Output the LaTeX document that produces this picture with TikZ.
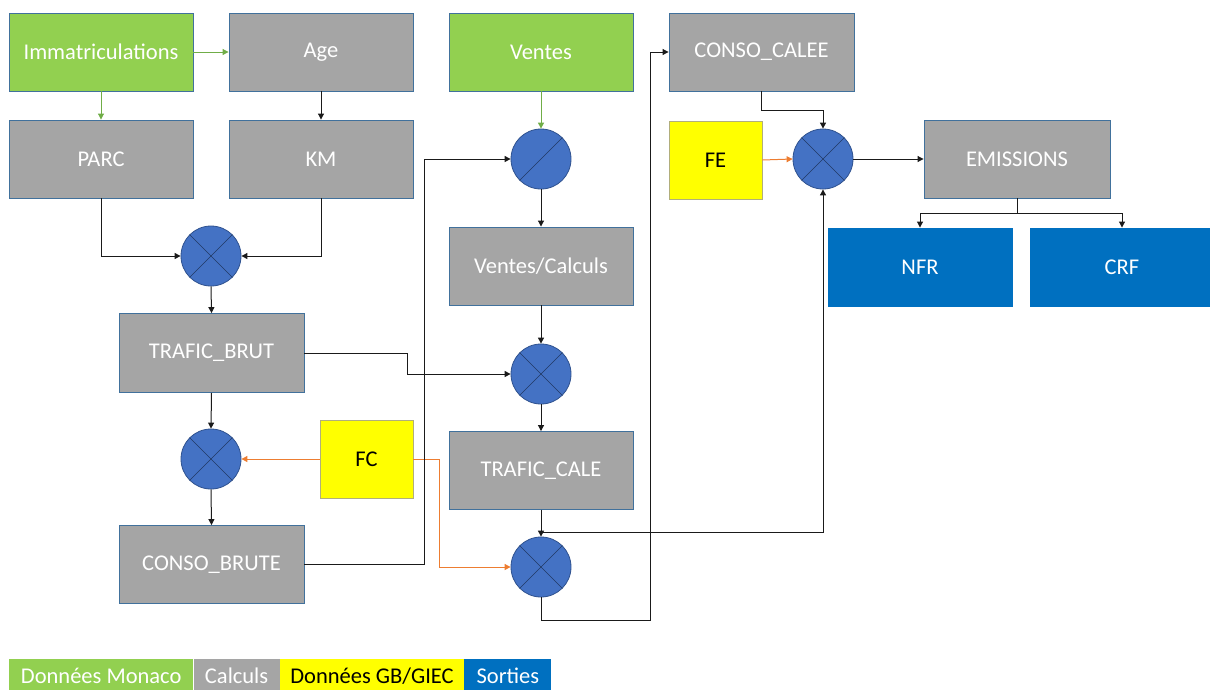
\documentclass[tikz,border=0pt]{standalone}
\usepackage{fontspec}
\setmainfont{Carlito}
\usetikzlibrary{arrows.meta,positioning}
\definecolor{cgreen}{HTML}{92D050}
\definecolor{cgray}{HTML}{A5A5A5}
\definecolor{cyellow}{HTML}{FFFF00}
\definecolor{cblue}{HTML}{0070C0}
\definecolor{cop}{HTML}{4472C4}
\definecolor{copdraw}{HTML}{2F528F}
\definecolor{cborder}{HTML}{41719C}
\definecolor{lgreen}{HTML}{70AD47}
\definecolor{lorange}{HTML}{ED7D31}
\definecolor{lgrey}{HTML}{1A1A1A}
\begin{document}
\begin{tikzpicture}[x=1pt,y=-1pt,
  font=\fontsize{22.5}{27}\selectfont,
  box/.style={rectangle,draw=cborder,line width=0.9pt,inner sep=0pt,
              minimum width=184pt,minimum height=78pt,text=white},
  databox/.style={box,fill=cgreen},
  calcbox/.style={box,fill=cgray},
  factbox/.style={box,fill=cyellow,draw=gray!70!yellow,text=black,minimum width=93pt},
  outbox/.style={box,fill=cblue,draw=cblue},
  op/.style={circle,fill=cop,draw=copdraw,line width=0.8pt,minimum size=60pt,inner sep=0pt},
  opline/.style={draw=copdraw!70!black,line width=0.6pt},
  link/.style={draw=lgrey,line width=1pt,-{Triangle[length=6pt,width=6pt]}},
  glink/.style={link,draw=lgreen,-{Triangle[length=6pt,width=6pt,fill=lgreen]}},
  olink/.style={link,draw=lorange,-{Triangle[length=6pt,width=6pt,fill=lorange]}},
  legcell/.style={rectangle,inner sep=0pt,minimum height=34pt,anchor=north west,text=white}
]
\useasboundingbox (0,0) rectangle (1210,689);

% data, calculation and output boxes
\node[databox] (imm) at (101,52) {Immatriculations};
\node[calcbox] (age) at (321,52) {Age};
\node[calcbox] (parc) at (101,159) {PARC};
\node[calcbox] (km) at (321,159) {KM};
\node[calcbox,minimum width=185pt,minimum height=79pt] (tb) at (211.5,353) {TRAFIC\_BRUT};
\node[factbox] (fc) at (366.5,459) {FC};
\node[calcbox,minimum width=185pt] (cb) at (211.5,564.5) {CONSO\_BRUTE};
\node[databox] (ventes) at (541,52) {Ventes};
\node[calcbox] (vc) at (541,266) {Ventes/Calculs};
\node[calcbox] (tc) at (541,470.5) {TRAFIC\_CALE};
\node[calcbox,minimum width=185pt] (cc) at (761.5,52) {CONSO\_CALEE};
\node[factbox] (fe) at (715.5,160) {FE};
\node[calcbox,minimum width=186pt] (em) at (1017,159) {EMISSIONS};
\node[outbox] (nfr) at (920,267) {NFR};
\node[outbox] (crf) at (1122,267) {CRF};

% operators: products and a quotient
\foreach \n/\p in {m1/{(211,256)},m2/{(211,459)},m3/{(541,374)},m4/{(541,567)},m5/{(823,159)}}{
  \node[op] (\n) at \p {};
  \draw[opline] (\n.north west) -- (\n.south east);
  \draw[opline] (\n.north east) -- (\n.south west);
}
\node[op] (d1) at (541,159) {};
\draw[opline] (d1.south west) -- (d1.north east);

% connectors
\draw[glink] (imm.east) -- (age.west);
\draw[glink] (imm.south) -- (parc.north);
\draw[link] (age.south) -- (km.north);
\draw[link] (parc.south) |- (m1.west);
\draw[link] (km.south) |- (m1.east);
\draw[link] (m1.south) -- (tb.north);
\draw[link] (tb.east) -- ++(103,0) |- (m3.west);
\draw[link] (tb.south) -- (m2.north);
\draw[olink] (fc.west) -- (m2.east);
\draw[olink] (fc.east) -- ++(26,0) |- (m4.west);
\draw[link] (m2.south) -- (cb.north);
\draw[link] (cb.east) -- ++(120,0) |- (d1.west);
\draw[glink] (ventes.south) -- (d1.north);
\draw[link] (d1.south) -- (vc.north);
\draw[link] (vc.south) -- (m3.north);
\draw[link] (m3.south) -- (tc.north);
\draw[link] (tc.south) -- (m4.north);
\draw[link] (tc.south) -- ++(0,23) -| (m5.south);
\draw[link] (m4.south) -- ++(0,23) -- ++(109,0) |- (cc.west);
\draw[link] (cc.south) -- ++(0,19) -| (m5.north);
\draw[olink] (fe.east) -- (m5.west);
\draw[link] (m5.east) -- (em.west);
\draw[link] (em.south) -- ++(0,15) -| (nfr.north);
\draw[link] (em.south) -- ++(0,15) -| (crf.north);

% legend
\node[legcell,fill=cgreen,minimum width=184pt] (lmon) at (9,659) {Données Monaco};
\node[legcell,fill=cgray,minimum width=86pt] (lcal) at (lmon.north east) {Calculs};
\node[legcell,fill=cyellow,text=black,minimum width=184pt] (lgb) at (lcal.north east) {Données GB/GIEC};
\node[legcell,fill=cblue,minimum width=87pt] (lsor) at (lgb.north east) {Sorties};
\end{tikzpicture}
\end{document}
